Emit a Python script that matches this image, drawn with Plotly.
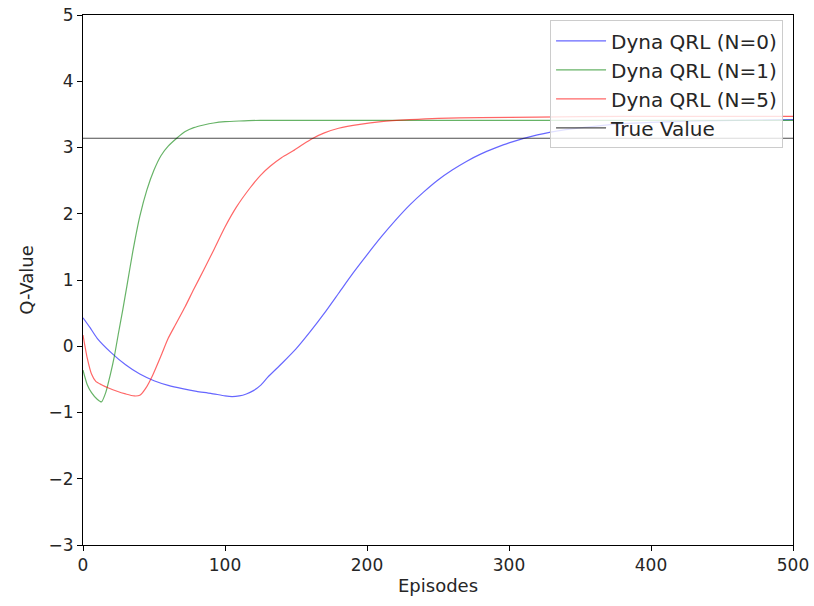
import plotly.graph_objects as go

# Dyna QRL (N=0)
x_n0 = [0, 5, 10, 20, 30, 40, 50, 60, 70, 80, 90, 100, 105, 110, 115, 120, 125, 130, 140, 150, 160, 170, 180, 190, 200, 210, 220, 230, 240, 250, 260, 270, 280, 290, 300, 320, 340, 360, 380, 400, 430, 460, 500]
y_n0 = [0.43, 0.28, 0.12, -0.10, -0.28, -0.42, -0.52, -0.59, -0.64, -0.68, -0.71, -0.75, -0.76, -0.75, -0.72, -0.67, -0.59, -0.47, -0.26, -0.04, 0.22, 0.50, 0.80, 1.10, 1.38, 1.65, 1.90, 2.13, 2.33, 2.51, 2.66, 2.79, 2.90, 2.99, 3.07, 3.19, 3.27, 3.32, 3.36, 3.38, 3.40, 3.41, 3.42]

# Dyna QRL (N=1)
x_n1 = [0, 3, 6, 10, 13, 16, 19, 22, 25, 28, 31, 35, 40, 45, 50, 55, 60, 66, 72, 78, 85, 92, 100, 110, 125, 150, 200, 300, 400, 500]
y_n1 = [-0.36, -0.58, -0.70, -0.80, -0.84, -0.70, -0.45, -0.16, 0.20, 0.55, 0.92, 1.42, 1.96, 2.36, 2.66, 2.88, 3.02, 3.14, 3.24, 3.30, 3.34, 3.37, 3.39, 3.40, 3.41, 3.41, 3.41, 3.41, 3.41, 3.41]

# Dyna QRL (N=5)
x_n5 = [0, 3, 6, 9, 13, 18, 24, 30, 36, 40, 44, 49, 55, 60, 65, 72, 78, 85, 92, 100, 108, 118, 125, 132, 140, 148, 155, 162, 170, 180, 195, 210, 230, 250, 280, 320, 380, 440, 500]
y_n5 = [0.17, -0.18, -0.42, -0.53, -0.58, -0.63, -0.68, -0.72, -0.75, -0.74, -0.64, -0.44, -0.14, 0.12, 0.32, 0.60, 0.86, 1.15, 1.45, 1.80, 2.10, 2.40, 2.58, 2.72, 2.85, 2.95, 3.05, 3.14, 3.22, 3.29, 3.35, 3.39, 3.42, 3.44, 3.45, 3.46, 3.47, 3.47, 3.47]

# True Value
x_true = [0, 500]
y_true = [3.14, 3.14]

series = [
    ("Dyna QRL (N=0)", x_n0, y_n0, "rgba(0,0,255,0.6)"),
    ("Dyna QRL (N=1)", x_n1, y_n1, "rgba(0,128,0,0.6)"),
    ("Dyna QRL (N=5)", x_n5, y_n5, "rgba(255,0,0,0.6)"),
    ("True Value", x_true, y_true, "rgba(0,0,0,0.7)"),
]

fig = go.Figure()
for i, (name, xs, ys, col) in enumerate(series):
    fig.add_trace(go.Scatter(
        x=xs, y=ys, mode="lines", name=name, legendgroup=f"g{i}",
        line=dict(color=col, width=1.2, shape="spline", smoothing=0.6),
    ))

font = "DejaVu Sans, sans-serif"
axis_common = dict(
    showline=True, linecolor="black", linewidth=1, mirror=True,
    ticks="outside", ticklen=5, tickcolor="black", tickwidth=1,
    showgrid=False, zeroline=False, automargin=False,
    tickfont=dict(family=font, size=17, color="#262626"),
)

fig.update_layout(
    width=814, height=606,
    margin=dict(l=83, r=21, t=15, b=61),
    paper_bgcolor="white", plot_bgcolor="white",
    font=dict(family=font, size=17, color="#262626"),
    xaxis=dict(range=[0, 500], tickvals=[0, 100, 200, 300, 400, 500],
               title=dict(text="Episodes", font=dict(family=font, size=18), standoff=4),
               **axis_common),
    yaxis=dict(range=[-3, 5], tickvals=[-3, -2, -1, 0, 1, 2, 3, 4, 5],
               ticktext=["\u22123", "\u22122", "\u22121", "0", "1", "2", "3", "4", "5"],
               title=dict(text="Q-Value", font=dict(family=font, size=18), standoff=10),
               **axis_common),
    legend=dict(
        x=0.986, y=0.99, xanchor="right", yanchor="top",
        bgcolor="rgba(255,255,255,0.8)", bordercolor="#cccccc", borderwidth=1,
        font=dict(family=font, size=20, color="#262626"),
        itemwidth=50, tracegroupgap=0,
    ),
    showlegend=True,
)

# remove the default page margin so the figure fills the 814x606 window
fig.write_html("out.html", config={"displayModeBar": False},
               post_script="document.body.style.margin='0px';")
